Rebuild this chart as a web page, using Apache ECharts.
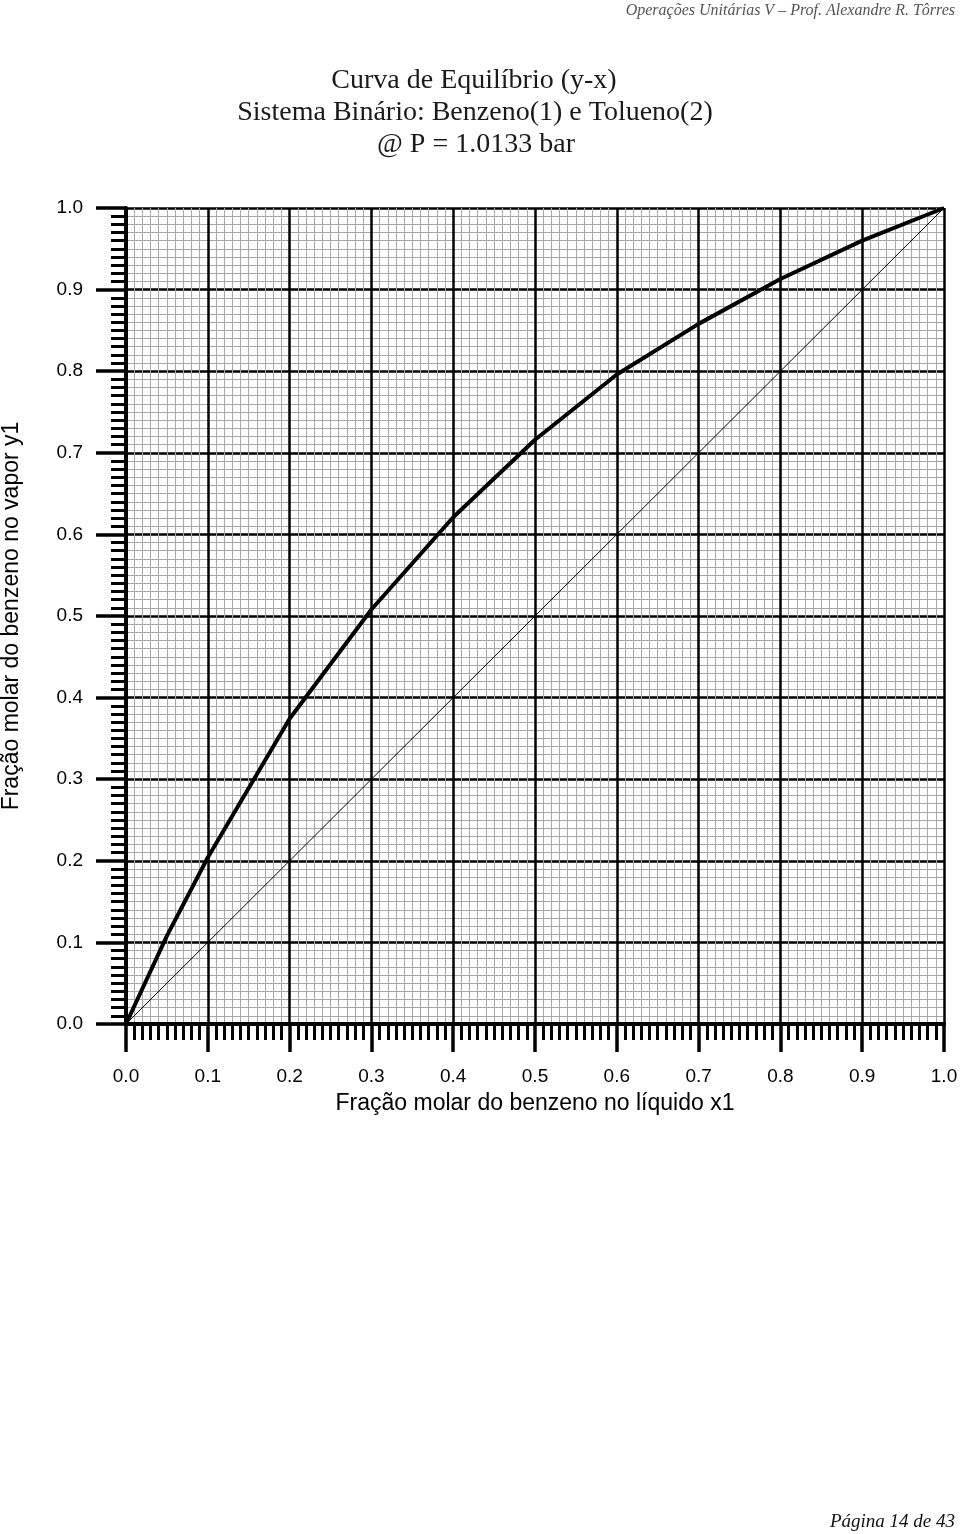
<!DOCTYPE html>
<html>
<head>
<meta charset="utf-8">
<script src="https://cdn.jsdelivr.net/npm/echarts@6/dist/echarts.min.js"></script>
<style>
html,body{margin:0;padding:0;background:#fff;}
#chart{width:960px;height:1534px;}
</style>
</head>
<body>
<div id="chart"></div>
<script>
// Data
const x1Liquid = [0, 0.05, 0.1, 0.2, 0.3, 0.4, 0.5, 0.6, 0.7, 0.8, 0.9, 1.0];
const y1Vapor  = [0, 0.108, 0.204, 0.374, 0.508, 0.621, 0.716, 0.796, 0.858, 0.913, 0.960, 1.0];
const diagonalX = [0, 1];
const diagonalY = [0, 1];
const titleLines = ['Curva de Equilíbrio (y-x)', 'Sistema Binário: Benzeno(1) e Tolueno(2)', '@ P = 1.0133 bar'];
const xAxisTitle = 'Fração molar do benzeno no líquido x1';
const yAxisTitle = 'Fração molar do benzeno no vapor y1';
const headerText = 'Operações Unitárias V – Prof. Alexandre R. Tôrres';
const footerText = 'Página 14 de 43';

const chart = echarts.init(document.getElementById('chart'), null, {renderer: 'canvas'});

function axisCommon(isX) {
  return {
    type: 'value', min: 0, max: 1, interval: 0.1,
    axisLine: {show: true, onZero: false, lineStyle: {color: '#000', width: 4}},
    axisTick: {show: true, inside: false, length: isX ? 28 : 30, lineStyle: {color: '#000', width: 3.5}},
    minorTick: {show: true, splitNumber: 10, length: isX ? 16 : 15, lineStyle: {color: '#000', width: 3}},
    splitLine: {show: true, lineStyle: {color: '#000', width: 2.5}},
    minorSplitLine: {show: true, lineStyle: {color: '#a8a8a8', width: 1}},
    axisLabel: {
      show: true, margin: isX ? 43 : 43, color: '#000',
      fontFamily: 'Liberation Sans, Arial, sans-serif', fontSize: 19,
      formatter: v => v.toFixed(1)
    },
    nameLocation: 'middle',
    nameTextStyle: {color: '#000', fontFamily: 'Liberation Sans, Arial, sans-serif', fontSize: 23}
  };
}

const xAxis = Object.assign(axisCommon(true), {name: xAxisTitle, nameGap: 68});
const yAxis = Object.assign(axisCommon(false), {name: yAxisTitle, nameGap: 103, nameRotate: 90});

const serif = '"Liberation Serif", "Times New Roman", serif';

chart.setOption({
  animation: false,
  backgroundColor: '#fff',
  grid: {left: 126, top: 208, width: 818, height: 816, containLabel: false, outerBoundsMode: 'none'},
  xAxis: xAxis,
  yAxis: yAxis,
  graphic: [
    {type: 'text', style: {x: 955, y: 3, text: headerText, textAlign: 'right', textVerticalAlign: 'top',
      font: 'italic 16px ' + serif, fill: '#555'}},
    {type: 'text', style: {x: 474, y: 81, text: titleLines[0], textAlign: 'center', textVerticalAlign: 'middle',
      font: '28px ' + serif, fill: '#1a1a1a'}},
    {type: 'text', style: {x: 475, y: 113, text: titleLines[1], textAlign: 'center', textVerticalAlign: 'middle',
      font: '28px ' + serif, fill: '#1a1a1a'}},
    {type: 'text', style: {x: 476, y: 145, text: titleLines[2], textAlign: 'center', textVerticalAlign: 'middle',
      font: '28px ' + serif, fill: '#1a1a1a'}},
    {type: 'text', style: {x: 955, y: 1522, text: footerText, textAlign: 'right', textVerticalAlign: 'middle',
      font: 'italic 19px ' + serif, fill: '#111'}}
  ],
  series: [
    {
      type: 'line', name: 'diagonal',
      data: diagonalX.map((v, i) => [v, diagonalY[i]]),
      showSymbol: false, symbol: 'none', z: 3,
      lineStyle: {color: '#000', width: 1}
    },
    {
      type: 'line', name: 'equilibrium',
      data: x1Liquid.map((v, i) => [v, y1Vapor[i]]),
      showSymbol: false, symbol: 'none', smooth: false, z: 4,
      lineStyle: {color: '#000', width: 4, join: 'round'}
    }
  ]
});
</script>
</body>
</html>
